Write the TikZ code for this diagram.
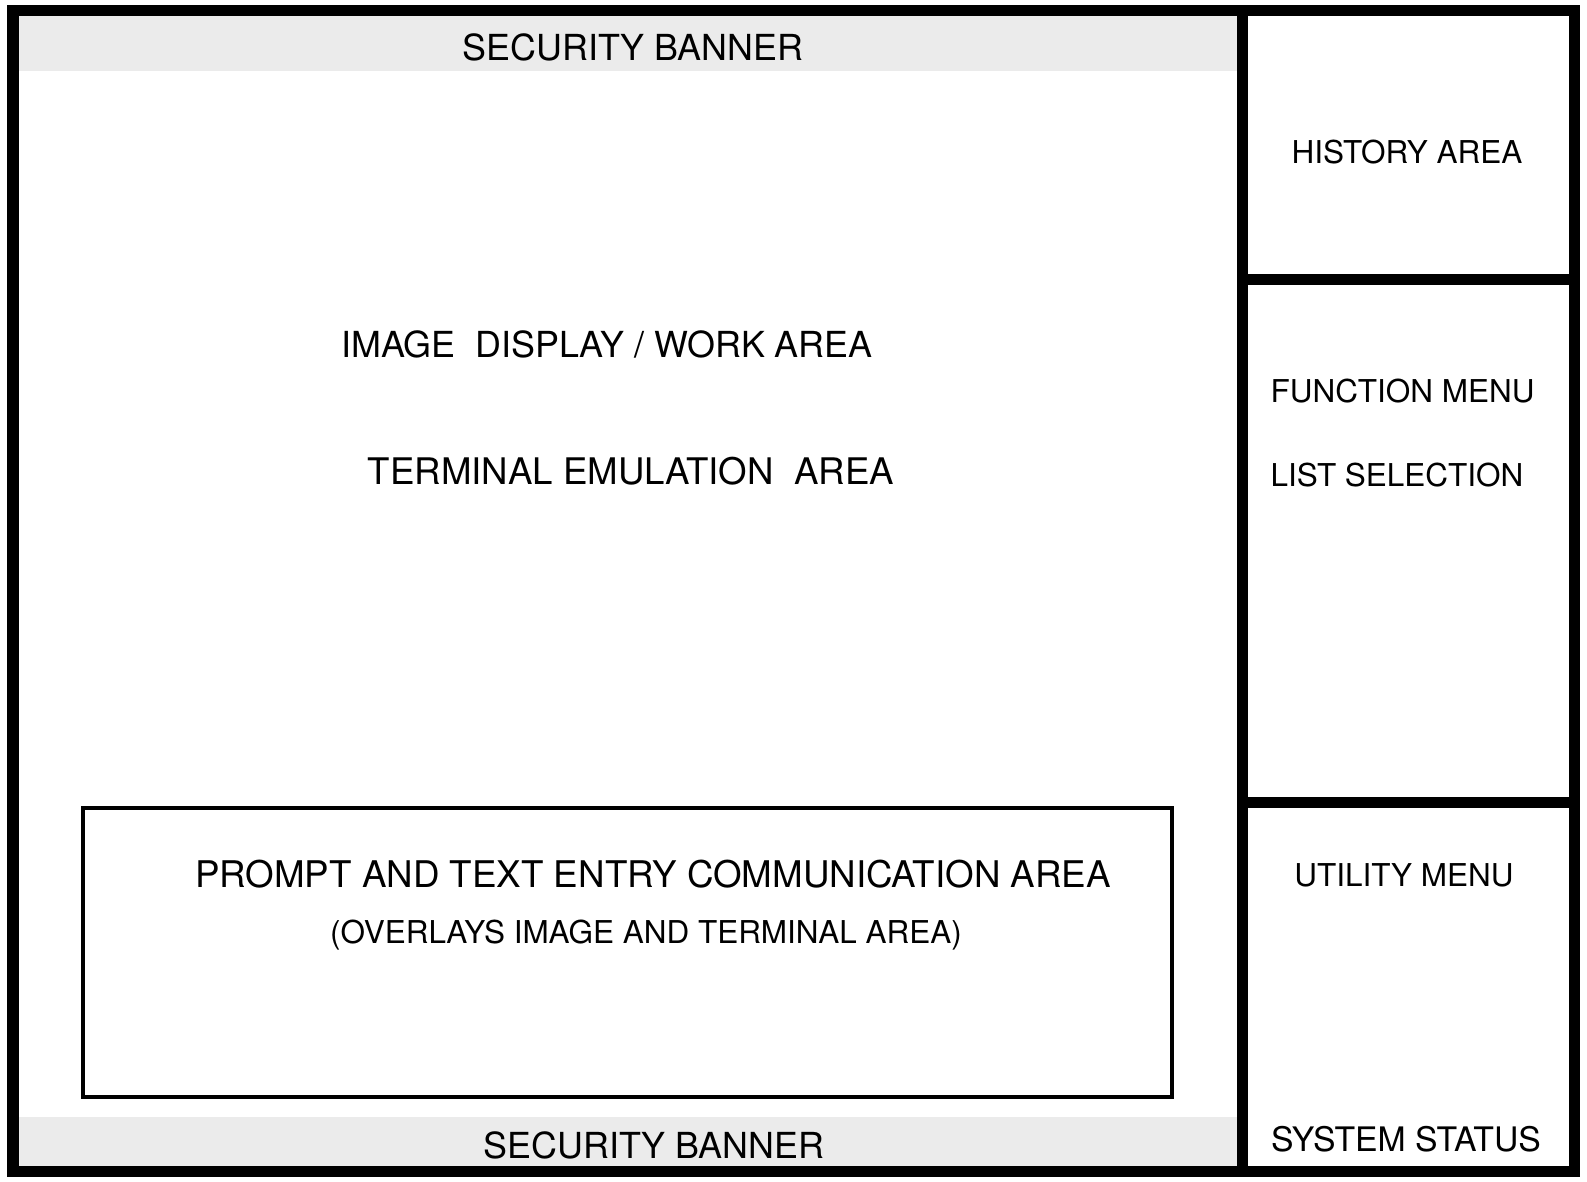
\documentclass[tikz,border=0pt]{standalone}
\usepackage{fontspec}
\setmainfont{TeX Gyre Heros}
\usepackage{tikz}
\definecolor{bannergray}{gray}{0.92}
\definecolor{framedark}{gray}{0.0}
\tikzstyle{frame} = [draw=framedark, line width=0.11cm]
\tikzstyle{overlaybox} = [draw=framedark, line width=0.04cm]
\tikzstyle{banner} = [fill=bannergray]
\tikzstyle{biglabel} = [inner sep=0pt, anchor=base, font=\fontsize{10.2pt}{12pt}\selectfont]
\tikzstyle{smalllabel} = [inner sep=0pt, anchor=base, font=\fontsize{8.95pt}{11pt}\selectfont]
\tikzstyle{menulabel} = [smalllabel, anchor=base west]

\begin{document}
\begin{tikzpicture}[x=0.01cm, y=-0.01cm]
  \useasboundingbox (0,0) rectangle (1587,1181);

  % shaded security banners
  \fill[banner] (13,10) rectangle (1242,71);
  \fill[banner] (13,1117) rectangle (1242,1171);

  % screen frame and side panels
  \draw[frame] (13,10) rectangle (1574,1171);
  \draw[frame] (1242,10) -- (1242,1171);
  \draw[frame] (1242,279) -- (1574,279);
  \draw[frame] (1242,802) -- (1574,802);

  % prompt overlay
  \draw[overlaybox] (83,808) rectangle (1172,1097);

  \node (bantop) [biglabel] at (633,60) {SECURITY BANNER};
  \node (history) [smalllabel] at (1407,163) {HISTORY AREA};
  \node (image) [biglabel] at (607,357) {IMAGE\ \ DISPLAY / WORK AREA};
  \node (terminal) [biglabel, font=\fontsize{10.42pt}{12pt}\selectfont] at (631,484) {TERMINAL EMULATION\ \ AREA};
  \node (fnmenu) [menulabel] at (1270,402) {FUNCTION MENU};
  \node (listsel) [menulabel] at (1270,486) {LIST SELECTION};
  \node (prompt) [biglabel, font=\fontsize{10.45pt}{12pt}\selectfont] at (653,887) {PROMPT AND TEXT ENTRY COMMUNICATION AREA};
  \node (overlays) [smalllabel] at (646,943) {(OVERLAYS IMAGE AND TERMINAL AREA)};
  \node (utility) [smalllabel] at (1404,886) {UTILITY MENU};
  \node (status) [smalllabel, font=\fontsize{9.6pt}{11pt}\selectfont] at (1406,1151) {SYSTEM STATUS};
  \node (banbot) [biglabel] at (654,1158) {SECURITY BANNER};
\end{tikzpicture}
\end{document}
